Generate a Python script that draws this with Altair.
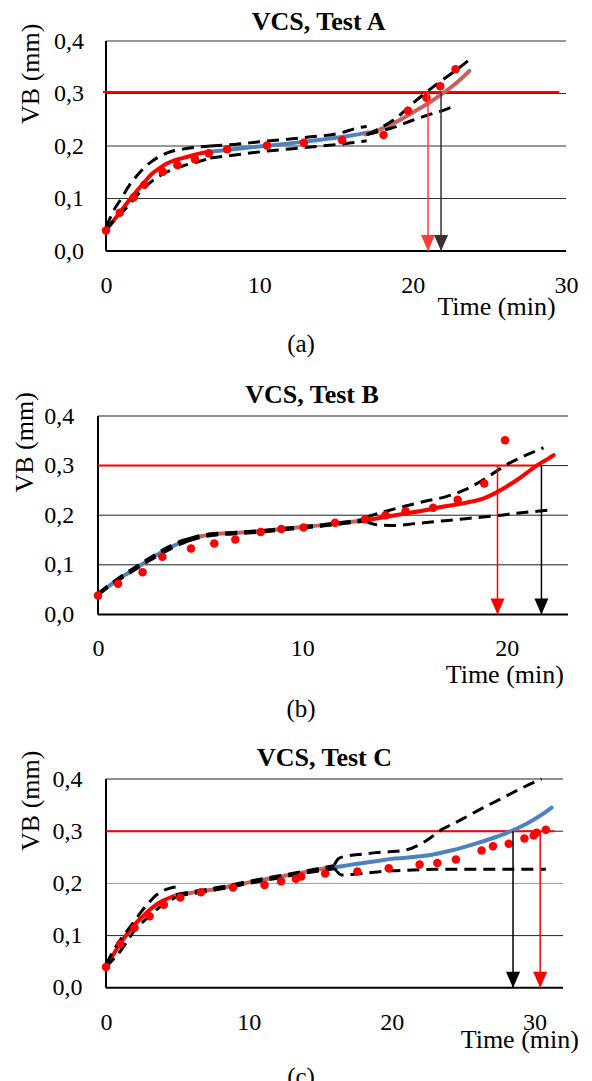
import altair as alt
import pandas as pd

FONT = "Liberation Serif"
RED = "#ff0000"
BLUE = "#4f81bd"
ROSY = "#c8605e"
ARROW = "M-0.875,-2L0.875,-2L0,0Z"
GRID_VALUES = [0.1, 0.2, 0.3, 0.4]
Y_TICKS = [0.0, 0.1, 0.2, 0.3, 0.4]

# ---------------- Panel A ----------------
A_pt_t = [0, 0.9, 1.8, 2.5, 3.7, 4.65, 5.8, 6.7, 7.9, 10.5, 12.9, 15.4, 18.1, 19.7, 20.9, 21.8, 22.8]
A_pt_v = [0.039, 0.073, 0.102, 0.126, 0.151, 0.164, 0.175, 0.186, 0.194, 0.201, 0.206, 0.211, 0.221, 0.267, 0.292, 0.314, 0.346]
A_f1_t = [0, 0.5, 1, 1.5, 2, 2.5, 3, 3.5, 4, 4.5, 5, 5.5, 6, 6.8]
A_f1_v = [0.04, 0.058, 0.077, 0.096, 0.114, 0.131, 0.147, 0.158, 0.167, 0.173, 0.177, 0.181, 0.185, 0.189]
A_f2_t = [6.8, 8, 10, 12, 14, 16, 17.1]
A_f2_v = [0.189, 0.193, 0.199, 0.205, 0.212, 0.22, 0.226]
A_f3_t = [16.9, 18, 19, 20, 21, 22, 23, 23.7]
A_f3_v = [0.222, 0.233, 0.247, 0.264, 0.281, 0.301, 0.324, 0.343]
A_d1_t = [0, 0.5, 1, 1.5, 2, 2.5, 3, 3.5, 4, 5, 6, 6.8]
A_d1u_v = [0.045, 0.077, 0.1, 0.124, 0.143, 0.159, 0.171, 0.18, 0.187, 0.194, 0.198, 0.2]
A_d1l_v = [0.04, 0.057, 0.072, 0.088, 0.105, 0.12, 0.133, 0.143, 0.151, 0.162, 0.17, 0.177]
A_d2u_t = [6.8, 8.4, 10, 12.9, 15.3, 16.5, 17]
A_d2u_v = [0.2, 0.203, 0.208, 0.216, 0.225, 0.235, 0.237]
A_d2l_t = [6.8, 7.9, 10.4, 12.9, 16, 17]
A_d2l_v = [0.177, 0.181, 0.19, 0.197, 0.206, 0.21]
A_d3u_t = [17, 18, 19, 20, 21, 22, 23, 23.6]
A_d3u_v = [0.222, 0.236, 0.255, 0.281, 0.305, 0.327, 0.348, 0.362]
A_d3l_t = [17, 18, 19, 20, 21, 22, 22.8]
A_d3l_v = [0.222, 0.229, 0.238, 0.249, 0.259, 0.268, 0.277]
A_thr = 0.303
A_thr_span = [-0.2, 29.56]
A_arrows_t = [21.0, 21.85]

# ---------------- Panel B ----------------
B_pt_t = [0, 0.98, 2.18, 3.15, 4.55, 5.69, 6.72, 7.96, 8.97, 10.06, 11.6, 13.07, 14.07, 15.05, 16.4, 17.6, 18.9, 19.92]
B_pt_v = [0.038, 0.062, 0.085, 0.116, 0.133, 0.143, 0.151, 0.166, 0.172, 0.175, 0.185, 0.192, 0.2, 0.208, 0.215, 0.231, 0.264, 0.351]
B_f1_t = [0, 0.5, 1, 1.5, 2, 2.5, 3, 3.5, 4, 4.4]
B_f1_v = [0.04, 0.056, 0.071, 0.084, 0.097, 0.11, 0.123, 0.134, 0.144, 0.15]
B_f2_t = [4.4, 5, 6, 7, 8, 9, 10, 11, 12, 13.1]
B_f2_v = [0.15, 0.157, 0.163, 0.165, 0.168, 0.172, 0.176, 0.18, 0.185, 0.19]
B_f3_t = [13.1, 14, 15, 16, 17, 18, 19, 19.5, 20, 20.5, 21, 21.5, 22, 22.3]
B_f3_v = [0.19, 0.196, 0.203, 0.21, 0.218, 0.225, 0.236, 0.246, 0.258, 0.271, 0.286, 0.301, 0.313, 0.321]
B_d1u_v = [0.042, 0.058, 0.073, 0.087, 0.1, 0.113, 0.126, 0.137, 0.147, 0.152]
B_d1l_v = [0.04, 0.055, 0.069, 0.082, 0.095, 0.108, 0.12, 0.131, 0.141, 0.148]
B_d2u_v = [0.152, 0.159, 0.164, 0.166, 0.169, 0.173, 0.177, 0.181, 0.186, 0.192]
B_d2l_v = [0.148, 0.155, 0.161, 0.163, 0.166, 0.17, 0.174, 0.178, 0.183, 0.188]
B_d3u_t = [13.1, 14, 15, 16, 17, 18, 19, 20, 21, 21.8]
B_d3u_v = [0.196, 0.207, 0.218, 0.228, 0.237, 0.252, 0.275, 0.302, 0.322, 0.336]
B_d3l_t = [13.1, 13.6, 14.5, 15.5, 16.5, 17.5, 18.5, 19.5, 20.5, 21.5, 22.3]
B_d3l_v = [0.188, 0.181, 0.179, 0.183, 0.187, 0.191, 0.195, 0.199, 0.204, 0.208, 0.211]
B_thr = 0.3
B_thr_span = [0, 21.7]
B_arrows_t = [19.55, 21.7]

# ---------------- Panel C ----------------
C_pt_t = [0, 1.0, 2.0, 3.05, 4.05, 5.2, 6.65, 8.9, 11.1, 12.26, 13.3, 13.67, 15.35, 17.6, 19.8, 21.96, 23.2, 24.5, 26.3, 27.1, 28.2, 29.3, 29.95, 30.15, 30.8]
C_pt_v = [0.04, 0.084, 0.115, 0.137, 0.159, 0.173, 0.183, 0.192, 0.197, 0.204, 0.209, 0.213, 0.219, 0.223, 0.229, 0.236, 0.239, 0.246, 0.263, 0.271, 0.276, 0.286, 0.292, 0.297, 0.303]
C_f1_t = [0, 0.5, 1, 1.5, 2, 2.5, 3, 3.5, 4, 4.5, 4.9]
C_f1_v = [0.04, 0.063, 0.085, 0.104, 0.121, 0.135, 0.148, 0.159, 0.167, 0.173, 0.177]
C_f2_t = [4.9, 6, 7, 8, 9, 10, 11, 12, 13, 14, 15, 16]
C_f2_v = [0.177, 0.182, 0.186, 0.191, 0.196, 0.202, 0.207, 0.212, 0.217, 0.222, 0.227, 0.233]
C_f3_t = [16, 17, 18, 19, 20, 21, 22, 23, 24, 25, 26, 27, 28, 29, 30, 31, 31.2]
C_f3_v = [0.231, 0.235, 0.239, 0.243, 0.247, 0.249, 0.252, 0.256, 0.262, 0.269, 0.277, 0.286, 0.296, 0.308, 0.323, 0.341, 0.345]
C_d1u_v = [0.045, 0.07, 0.092, 0.11, 0.128, 0.147, 0.163, 0.177, 0.186, 0.191, 0.193]
C_d1l_v = [0.04, 0.054, 0.07, 0.09, 0.11, 0.124, 0.137, 0.149, 0.159, 0.167, 0.174]
C_d2_t = [4.9, 6, 8, 10, 12, 14, 16]
C_d2u_v = [0.179, 0.184, 0.193, 0.204, 0.214, 0.224, 0.234]
C_d2l_v = [0.176, 0.18, 0.189, 0.2, 0.21, 0.22, 0.228]
C_d3u_t = [16, 16.3, 17, 18, 19, 20, 21, 22, 23, 23.5, 24, 25, 26, 27, 28, 29, 30, 30.5]
C_d3u_v = [0.236, 0.248, 0.253, 0.256, 0.259, 0.261, 0.264, 0.275, 0.293, 0.303, 0.31, 0.324, 0.339, 0.353, 0.367, 0.381, 0.394, 0.4]
C_d3l_t = [16, 16.5, 17.2, 18, 19, 20, 21, 22, 23, 30.8]
C_d3l_v = [0.229, 0.216, 0.217, 0.219, 0.222, 0.224, 0.225, 0.226, 0.227, 0.227]
C_thr = 0.3
C_thr_span = [0, 31.4]
C_arrows_t = [28.5, 30.4]


def lines_df(series):
    rows = []
    for name, ts, vs, col in series:
        for t, v in zip(ts, vs):
            rows.append({"t": t, "v": v, "s": name, "c": col})
    return pd.DataFrame(rows)


def panel(p):
    xs = alt.Scale(domain=[0, p["xmax"]], range=p["xrange"], nice=False, zero=False)
    ys = alt.Scale(domain=[0, 0.4], nice=False, zero=False)
    xaxis = alt.Axis(
        values=p["xticks"], format="d", labelFont=FONT, labelFontSize=24, labelColor="black",
        labelBaseline="alphabetic", labelPadding=41.5, labelFlush=False, labelOverlap=False,
        ticks=False, tickSize=0, domain=False, grid=False,
        title="Time (min)", titleFont=FONT, titleFontSize=26, titleFontWeight="normal",
        titleColor="black", titleX=p["xtx"], titleY=p["xty"], titleAlign="center",
        titleBaseline="alphabetic",
    )
    yaxis = alt.Axis(
        values=Y_TICKS, labelExpr="replace(format(datum.value, '.1f'), '.', ',')",
        labelFont=FONT, labelFontSize=24, labelColor="black", labelPadding=p["ylp"],
        labelFlush=False, labelOverlap=False,
        ticks=False, tickSize=0, domain=False, grid=False,
        title="VB (mm)", titleFont=FONT, titleFontSize=26, titleFontWeight="normal",
        titleColor="black", titleAngle=270, titleX=p["ytx"], titleY=p["yty"],
        titleAlign="center", titleBaseline="alphabetic",
    )

    def X():
        return alt.X("t:Q", scale=xs, axis=xaxis)

    def Y():
        return alt.Y("v:Q", scale=ys, axis=yaxis)

    one = pd.DataFrame({"k": [0]})
    extent = alt.Chart(one).mark_rule(color="white", strokeWidth=1).encode(
        x=alt.value(-97), y=alt.value(p["top"]), y2=alt.value(p["bottom"])
    )
    grid = alt.Chart(pd.DataFrame({
        "t": [0] * 4, "t2": [p["xmax"]] * 4, "v": GRID_VALUES, "c": p["gridc"]
    })).mark_rule(strokeWidth=1).encode(
        x=X(), x2=alt.X2("t2"), y=Y(), color=alt.Color("c:N", scale=None)
    )
    yline = alt.Chart(pd.DataFrame({"t": [0], "v": [0], "v2": [0.4]})).mark_rule(
        color="black", strokeWidth=2).encode(x=X(), y=Y(), y2=alt.Y2("v2"))
    xline = alt.Chart(pd.DataFrame({"t": [0], "t2": [p["xmax"]], "v": [0]})).mark_rule(
        color="black", strokeWidth=2).encode(x=X(), x2=alt.X2("t2"), y=Y())
    thr = alt.Chart(pd.DataFrame({"t": [p["thr_span"][0]], "t2": [p["thr_span"][1]], "v": [p["thr"]]})).mark_rule(
        color=RED, strokeWidth=2).encode(x=X(), x2=alt.X2("t2"), y=Y())
    fits = alt.Chart(lines_df(p["fits"])).mark_line(
        strokeWidth=4, strokeCap="round", interpolate="monotone").encode(
        x=X(), y=Y(), color=alt.Color("c:N", scale=None), detail="s:N")
    dashed = alt.Chart(lines_df(p["dashed"])).mark_line(
        color="black", strokeWidth=3, strokeDash=[12, 7], interpolate="monotone").encode(
        x=X(), y=Y(), detail="s:N")
    pts = alt.Chart(pd.DataFrame({"t": p["pt_t"], "v": p["pt_v"]})).mark_circle(
        size=72, color=RED, opacity=1).encode(x=X(), y=Y())
    arr_df = pd.DataFrame({"t": p["arrows_t"], "v": [p["thr"]] * 2, "v2": [0, 0],
                           "c": p["arrow_c"]})
    arr_lines = alt.Chart(arr_df).mark_rule(strokeWidth=1.5).encode(
        x=X(), y=Y(), y2=alt.Y2("v2"), color=alt.Color("c:N", scale=None))
    arr_heads = alt.Chart(arr_df).mark_point(
        shape=ARROW, size=256, filled=True, opacity=1, strokeWidth=0).encode(
        x=X(), y=alt.Y("v2:Q", scale=ys, axis=yaxis), color=alt.Color("c:N", scale=None))
    title = alt.Chart(one).mark_text(
        text=p["title"], font=FONT, fontSize=26, fontWeight="bold", color="black",
        align="center", baseline="alphabetic").encode(x=alt.value(p["ttx"]), y=alt.value(p["tty"]))
    cap = alt.Chart(one).mark_text(
        text=p["cap"], font=FONT, fontSize=25, color="black",
        align="center", baseline="alphabetic").encode(x=alt.value(195), y=alt.value(p["capy"]))
    return alt.layer(extent, grid, yline, xline, thr, fits, dashed, pts, arr_lines, arr_heads,
                     title, cap).properties(width=p["width"], height=p["height"])


pA = dict(
    xmax=30, xrange=[0, 460], width=460, height=210, xticks=[0, 10, 20, 30],
    ylp=22.5, ytx=-68, yty=32.3, xtx=390, xty=63.3, ttx=212.6, tty=-10.7, capy=310.5,
    top=-32, bottom=330, gridc=["#333333"] * 4, title="VCS, Test A", cap="(a)",
    pt_t=A_pt_t, pt_v=A_pt_v, thr=A_thr, thr_span=A_thr_span, arrows_t=A_arrows_t,
    arrow_c=["#ff3a3a", "#333333"],
    fits=[("f1", A_f1_t, A_f1_v, RED), ("f2", A_f2_t, A_f2_v, BLUE), ("f3", A_f3_t, A_f3_v, ROSY)],
    dashed=[("d1u", A_d1_t, A_d1u_v, "k"), ("d1l", A_d1_t, A_d1l_v, "k"),
            ("d2u", A_d2u_t, A_d2u_v, "k"), ("d2l", A_d2l_t, A_d2l_v, "k"),
            ("d3u", A_d3u_t, A_d3u_v, "k"), ("d3l", A_d3l_t, A_d3l_v, "k")],
)
pB = dict(
    xmax=23, xrange=[-8, 462], width=462, height=198.4, xticks=[0, 10, 20],
    ylp=32.3, ytx=-73.3, yty=25.9, xtx=398.3, xty=67.6, ttx=206, tty=-12.6, capy=300.5,
    top=-43.3, bottom=316.7, gridc=["#222222"] * 4, title="VCS, Test B", cap="(b)",
    pt_t=B_pt_t, pt_v=B_pt_v, thr=B_thr, thr_span=B_thr_span, arrows_t=B_arrows_t,
    arrow_c=[RED, "#000000"],
    fits=[("f1", B_f1_t, B_f1_v, BLUE), ("f2", B_f2_t, B_f2_v, ROSY), ("f3", B_f3_t, B_f3_v, RED)],
    dashed=[("d1u", B_f1_t, B_d1u_v, "k"), ("d1l", B_f1_t, B_d1l_v, "k"),
            ("d2u", B_f2_t, B_d2u_v, "k"), ("d2l", B_f2_t, B_d2l_v, "k"),
            ("d3u", B_d3u_t, B_d3u_v, "k"), ("d3l", B_d3l_t, B_d3l_v, "k")],
)
pC = dict(
    xmax=32, xrange=[0, 457], width=457, height=208.8, xticks=[0, 10, 20, 30],
    ylp=24, ytx=-67.7, yty=21.3, xtx=413.3, xty=60, ttx=218.5, tty=-12.8, capy=306.1,
    top=-44.5, bottom=315, gridc=["#222222", "#999999", "#222222", "#222222"],
    title="VCS, Test C", cap="(c)",
    pt_t=C_pt_t, pt_v=C_pt_v, thr=C_thr, thr_span=C_thr_span, arrows_t=C_arrows_t,
    arrow_c=["#000000", RED],
    fits=[("f1", C_f1_t, C_f1_v, RED), ("f2", C_f2_t, C_f2_v, ROSY), ("f3", C_f3_t, C_f3_v, BLUE)],
    dashed=[("d1u", C_f1_t, C_d1u_v, "k"), ("d1l", C_f1_t, C_d1l_v, "k"),
            ("d2u", C_d2_t, C_d2u_v, "k"), ("d2l", C_d2_t, C_d2l_v, "k"),
            ("d3u", C_d3u_t, C_d3u_v, "k"), ("d3l", C_d3l_t, C_d3l_v, "k")],
)

chart = alt.vconcat(panel(pA), panel(pB), panel(pC), spacing=0).configure(
    font=FONT).configure_axis(
    labelFont=FONT, titleFont=FONT, labelFontSize=24, titleFontSize=26,
    labelColor="black", titleColor="black", titleFontWeight="normal").configure_text(
    font=FONT).configure_view(strokeWidth=0).properties(padding=0, background="white")

chart.save("out.html", embed_options={"renderer": "svg", "actions": False})
